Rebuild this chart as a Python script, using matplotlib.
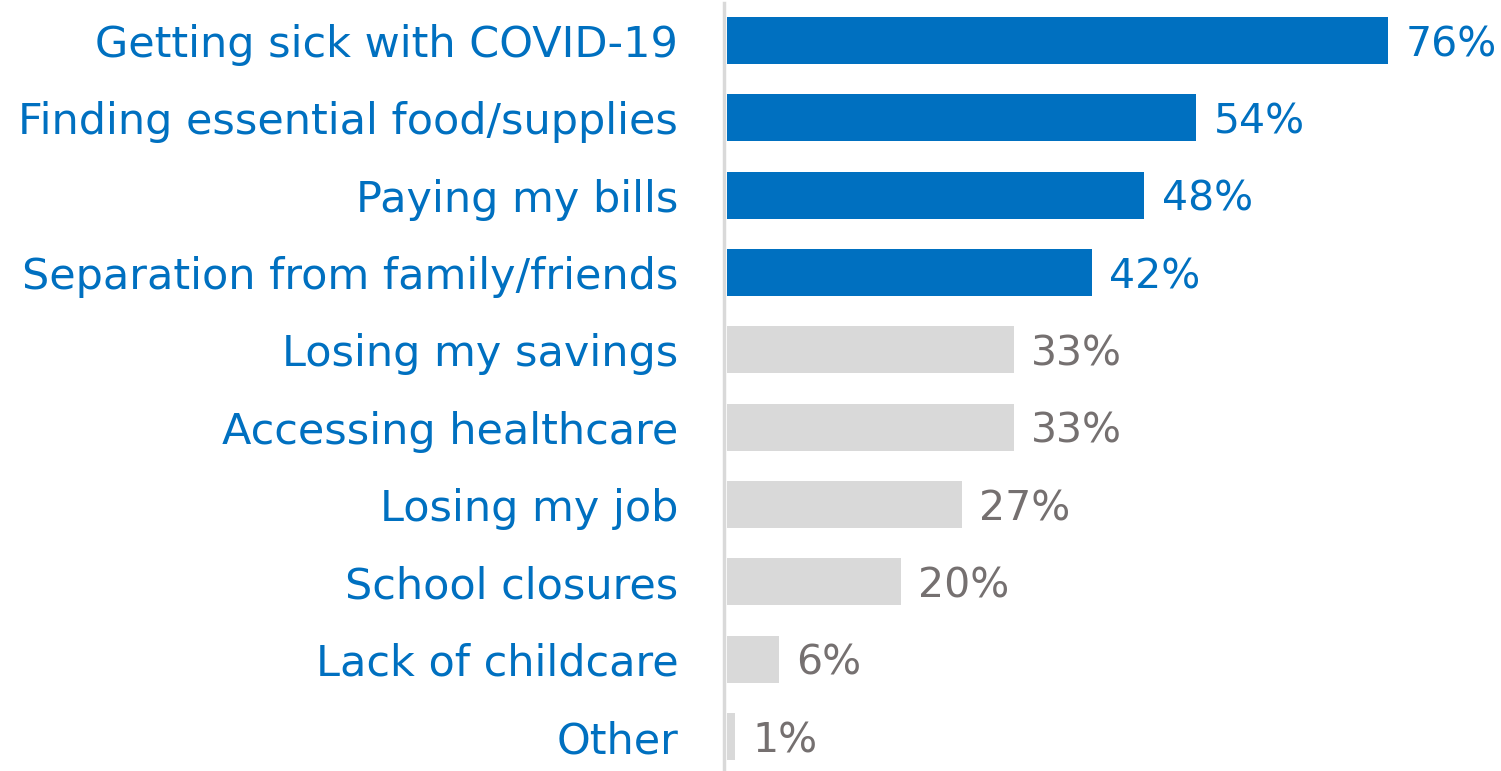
import matplotlib
matplotlib.use("Agg")
import matplotlib.pyplot as plt

categories = ["Getting sick with COVID-19", "Finding essential food/supplies", "Paying my bills",
              "Separation from family/friends", "Losing my savings", "Accessing healthcare",
              "Losing my job", "School closures", "Lack of childcare", "Other"]
values = [76, 54, 48, 42, 33, 33, 27, 20, 6, 1]
highlight = [True, True, True, True, False, False, False, False, False, False]

BLUE = "#0070C0"
GREY = "#D9D9D9"
GREY_TEXT = "#757070"

plt.rcParams['font.family'] = ['DejaVu Sans']

fig = plt.figure(figsize=(15.01, 7.71), dpi=100)
ax = fig.add_axes([724/1501, 0, 1 - 724/1501, 768/771])

ypos = list(range(len(categories)))
colors = [BLUE if h else GREY for h in highlight]
ax.barh(ypos, values, height=0.61, color=colors, left=0.3)

for y, v, h in zip(ypos, values, highlight):
    ax.text(v + 0.3 + 2.0, y, f"{v}%", va="center_baseline", ha="left", fontsize=29.5,
            color=BLUE if h else GREY_TEXT)

ax.set_yticks(ypos)
ax.set_yticklabels(categories, fontsize=31, color=BLUE)
ax.tick_params(axis="y", length=0, pad=33)
ax.set_xticks([])
ax.set_xlim(0, 89.3)
ax.set_ylim(9.446, -0.485)
for s in ["top", "right", "bottom"]:
    ax.spines[s].set_visible(False)
ax.spines["left"].set_color(GREY)
ax.spines["left"].set_linewidth(2.5)

fig.savefig("out.png", dpi=100)
